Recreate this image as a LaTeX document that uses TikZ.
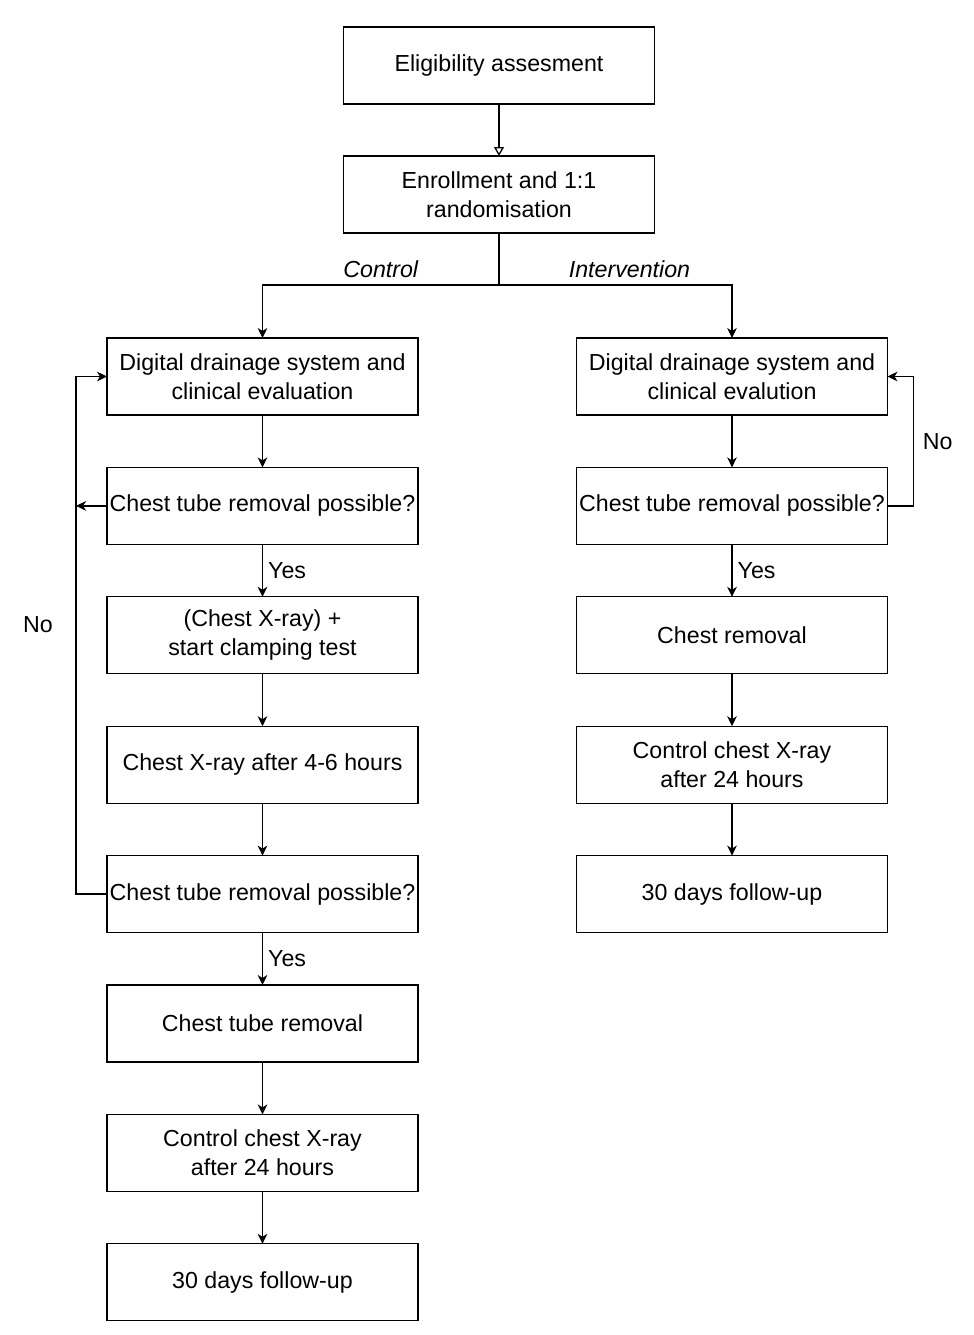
\documentclass[tikz,border=0pt]{standalone}
\usepackage{fontspec}
\setmainfont{Liberation Sans}
\usetikzlibrary{positioning,arrows.meta}

\begin{document}
\begin{tikzpicture}[x=1pt, y=1pt,
        node distance=26.2pt,
        box/.style={draw, line width=0.65pt, minimum width=155.5pt, minimum height=38.5pt,
                    inner xsep=0pt, outer sep=0pt, align=center, font=\fontsize{11.6}{14.5}\selectfont},
        lbl/.style={font=\fontsize{11.6}{14.5}\selectfont},
        arr/.style={line width=0.65pt, -{Stealth[length=5pt, width=4.8pt, inset=1.5pt]}},
        openarr/.style={line width=0.65pt, -{Triangle[open, length=4.5pt, width=5pt]}}]
  \useasboundingbox (0,0) rectangle (487,-667.5);

  \node[box] (elig) at (249.5,-32.75) {Eligibility assesment};
  \node[box, below=26pt of elig] (enr) {Enrollment and 1:1\\randomisation};
  \coordinate[below=26pt of enr.south] (split);

  \node[box] (c1) at (131.25,-188.25) {Digital drainage system and\\clinical evaluation};
  \node[box, below=of c1] (c2) {Chest tube removal possible?};
  \node[box, below=of c2] (c3) {(Chest X-ray) +\\start clamping test};
  \node[box, below=of c3] (c4) {Chest X-ray after 4-6 hours};
  \node[box, below=of c4] (c5) {Chest tube removal possible?};
  \node[box, below=of c5] (c6) {Chest tube removal};
  \node[box, below=of c6] (c7) {Control chest X-ray\\after 24 hours};
  \node[box, below=of c7] (c8) {30 days follow-up};

  \node[box] (r1) at (366,-188.25) {Digital drainage system and\\clinical evalution};
  \node[box, below=of r1] (r2) {Chest tube removal possible?};
  \node[box, below=of r2] (r3) {Chest removal};
  \node[box, below=of r3] (r4) {Control chest X-ray\\after 24 hours};
  \node[box, below=of r4] (r5) {30 days follow-up};

  \draw[openarr] (elig) -- (enr);
  \draw[line width=0.65pt] (enr) -- (split);
  \draw[arr] (split) -| node[pos=.25, above, font=\fontsize{11.6}{14.5}\selectfont\itshape] {Control} (c1);
  \draw[arr] (split) -| node[pos=.28, above, font=\fontsize{11.6}{14.5}\selectfont\itshape] {Intervention} (r1);

  \draw[arr] (c1) -- (c2);
  \draw[arr] (c2) -- node[right, lbl, inner xsep=2.5pt] {Yes} (c3);
  \draw[arr] (c3) -- (c4);
  \draw[arr] (c4) -- (c5);
  \draw[arr] (c5) -- node[right, lbl, inner xsep=2.5pt] {Yes} (c6);
  \draw[arr] (c6) -- (c7);
  \draw[arr] (c7) -- (c8);
  \draw[arr] (c2.west) -- ++(-15.5,0);
  \draw[arr] (c5.west) -- ++(-15.5,0) |- node[pos=.26, left=8pt, lbl] {No} (c1.west);

  \draw[arr] (r1) -- (r2);
  \draw[arr] (r2) -- node[right, lbl, inner xsep=2.5pt] {Yes} (r3);
  \draw[arr] (r3) -- (r4);
  \draw[arr] (r4) -- (r5);
  \draw[arr] (r2.east) -- ++(13,0) |- node[pos=.25, right=1pt, lbl] {No} (r1.east);
\end{tikzpicture}
\end{document}
